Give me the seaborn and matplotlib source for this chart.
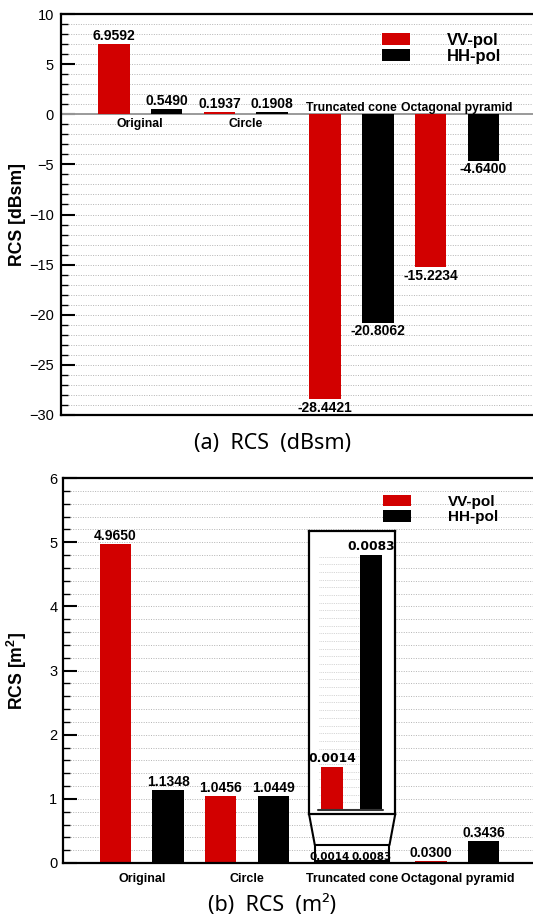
import matplotlib
matplotlib.use("Agg")
import matplotlib.pyplot as plt
import seaborn as sns
import numpy as np
import pandas as pd
from matplotlib.ticker import MultipleLocator
from matplotlib.patches import Rectangle

# data
categories = ["Original", "Circle", "Truncated cone", "Octagonal pyramid"]
polarizations = ["VV-pol", "HH-pol"]
vv_dbsm = [6.9592, 0.1937, -28.4421, -15.2234]
hh_dbsm = [0.5490, 0.1908, -20.8062, -4.6400]
vv_m2 = [4.9650, 1.0456, 0.0014, 0.0300]
hh_m2 = [1.1348, 1.0449, 0.0083, 0.3436]
zoom_category = "Truncated cone"

RED = "#d20000"
palette = {"VV-pol": RED, "HH-pol": "black"}
GRID = "#b4b4b4"

sns.set_style("white")
plt.rcParams["font.family"] = ["Liberation Sans", "DejaVu Sans"]
plt.rcParams.update({
    "text.color": "black", "axes.labelcolor": "black",
    "xtick.color": "black", "ytick.color": "black",
    "mathtext.fontset": "custom", "mathtext.rm": "Liberation Sans",
    "mathtext.bf": "Liberation Sans:bold",
})


def to_frame(vv, hh):
    return pd.DataFrame({
        "shape": categories * 2,
        "pol": ["VV-pol"] * len(categories) + ["HH-pol"] * len(categories),
        "value": list(vv) + list(hh),
    })


df_db = to_frame(vv_dbsm, hh_dbsm)
df_m2 = to_frame(vv_m2, hh_m2)

W, H = 533, 919
fig = plt.figure(figsize=(W / 100, H / 100), dpi=100)


def px_axes(left, top, right, bottom):
    return fig.add_axes([left / W, 1 - bottom / H, (right - left) / W, (bottom - top) / H])


def style_axes(ax, major, minor, ylim, pad):
    ax.set_xlim(-0.75, 3.72)
    ax.set_ylim(*ylim)
    ax.yaxis.set_major_locator(MultipleLocator(major))
    ax.yaxis.set_minor_locator(MultipleLocator(minor))
    ax.grid(which="both", axis="y", color=GRID, linestyle=(0, (1, 1.5)), lw=0.7)
    ax.grid(which="both", axis="x", visible=False)
    ax.set_axisbelow(True)
    ax.tick_params(axis="y", which="major", direction="in", length=10, width=1.5,
                   labelsize=10.5, pad=pad, left=True)
    ax.tick_params(axis="y", which="minor", direction="in", length=5, width=1, left=True)
    ax.spines["right"].set_visible(False)
    for s in ("left", "top", "bottom"):
        ax.spines[s].set_linewidth(1.6)
        ax.spines[s].set_color("black")
    ax.set_xlabel("")


def label_bars(ax, values_by_pol, skip=None, size=10):
    for container, pol in zip(ax.containers, polarizations):
        for bar, cat, v in zip(container, categories, values_by_pol[pol]):
            if cat == skip:
                continue
            x = bar.get_x() + bar.get_width() / 2
            up = v >= 0
            ax.annotate(f"{v:.4f}", (x, v), xytext=(0, 0.8 if up else -1.2),
                        textcoords="offset points", ha="center",
                        va="bottom" if up else "top",
                        fontsize=size, fontweight="bold")


def make_legend(ax, anchor, size, hl, hh, tp, ls):
    handles, labels = ax.get_legend_handles_labels()
    ax.legend(handles, labels, loc="upper left", bbox_to_anchor=anchor,
              frameon=False, prop={"weight": "bold", "size": size},
              handlelength=hl, handleheight=hh, handletextpad=tp,
              labelspacing=ls, borderpad=0, borderaxespad=0)


# ---------------- (a) RCS in dBsm ----------------
ax1 = px_axes(61, 14, 533, 415)
sns.barplot(data=df_db, x="shape", y="value", hue="pol", palette=palette,
            hue_order=polarizations, order=categories, width=1.0, gap=0.4,
            errorbar=None, linewidth=0, saturation=1, ax=ax1)
style_axes(ax1, 5, 1, (-30, 10), 5)
ax1.set_xticks([])
ax1.set_ylabel("RCS [dBsm]", fontsize=12.7, fontweight="bold")
ax1.yaxis.set_label_coords(-0.074, 0.5)
ax1.axhline(0, color="#9a9a9a", lw=1.4, zorder=0.8)
label_bars(ax1, {"VV-pol": vv_dbsm, "HH-pol": hh_dbsm})

for i, cat in enumerate(categories):
    positive = max(vv_dbsm[i], hh_dbsm[i]) > 0
    ax1.annotate(cat, (i, 0), xytext=(0, -2.7 if positive else 2.6),
                 textcoords="offset points", ha="center",
                 va="top" if positive else "baseline",
                 fontsize=8.8, fontweight="bold")

make_legend(ax1, (0.680, 0.953), 12, 1.7, 0.72, 2.2, 0.08)

fig.text(273 / W, 1 - 444 / H, "(a)  RCS  (dBsm)", ha="center", va="center",
         fontsize=15.5, family="Noto Sans")

# ---------------- (b) RCS in m^2 ----------------
ax2 = px_axes(63, 478, 533, 863)
sns.barplot(data=df_m2, x="shape", y="value", hue="pol", palette=palette,
            hue_order=polarizations, order=categories, width=1.0, gap=0.4,
            errorbar=None, linewidth=0, saturation=1, ax=ax2)
style_axes(ax2, 1, 0.2, (0, 6), 4)
ax2.set_xticks(range(len(categories)))
ax2.set_xticklabels(categories, fontsize=9, fontweight="bold")
ax2.tick_params(axis="x", length=0, pad=7)
ax2.set_ylabel(r"RCS [m$^\mathbf{2}$]", fontsize=12.7, fontweight="bold")
ax2.yaxis.set_label_coords(-0.072, 0.5)
label_bars(ax2, {"VV-pol": vv_m2, "HH-pol": hh_m2}, skip=zoom_category, size=10)
make_legend(ax2, (0.681, 0.957), 11, 1.83, 0.78, 2.4, 0.1)

# tiny values of the zoom category, written in the small box at the bottom
zi = categories.index(zoom_category)
for container, pol, nudge in zip(ax2.containers, polarizations, (3, -5)):
    bar = container[zi]
    v = bar.get_height()
    ax2.annotate(f"{v:.4f}", (bar.get_x() + bar.get_width() / 2, v),
                 xytext=(nudge, 0.5), textcoords="offset points", ha="center",
                 va="bottom", fontsize=7.5, fontweight="bold", family="DejaVu Sans")

# zoom box geometry (in the main axes data coordinates)
box_lo, box_hi = 0.763, 5.174
small_lo, small_hi = 0.03, 0.28
ax2.add_patch(Rectangle((zi - 0.355, small_lo), 0.71, small_hi - small_lo,
                        fill=False, ec="black", lw=1.5, clip_on=False, zorder=5))
ax2.plot([zi - 0.41, zi - 0.355], [box_lo, small_hi], color="black", lw=1.5, clip_on=False, zorder=5)
ax2.plot([zi + 0.41, zi + 0.355], [box_lo, small_hi], color="black", lw=1.5, clip_on=False, zorder=5)

inset = ax2.inset_axes([zi - 0.41, box_lo, 0.82, box_hi - box_lo], transform=ax2.transData)
zoom_df = df_m2[df_m2["shape"] == zoom_category]
sns.barplot(data=zoom_df, x="pol", y="value", hue="pol", palette=palette,
            order=polarizations, hue_order=polarizations, width=0.57,
            errorbar=None, linewidth=0, saturation=1, legend=False, ax=inset)
inset.set_xlim(-0.597, 1.636)
inset.set_ylim(-0.00013, 0.00908)
inset.set_facecolor("white")
inset.set_xticks([])
inset.set_yticks([])
inset.set_xlabel("")
inset.set_ylabel("")
for s in inset.spines.values():
    s.set_visible(True)
    s.set_color("black")
    s.set_linewidth(1.6)
inset.hlines(np.arange(0.00025, 0.0083, 0.00025), -0.35, 0.72, color="#c8c8c8",
             lw=0.6, linestyle=(0, (1, 1.2)), zorder=0.5)
inset.axhline(0, xmin=0.1, xmax=0.86, color="#333333", lw=1.5, zorder=3)
for bar, v in zip(inset.patches, [vv_m2[zi], hh_m2[zi]]):
    inset.annotate(f"{v:.4f}", (bar.get_x() + bar.get_width() / 2, v),
                   xytext=(0, 1.5), textcoords="offset points", ha="center",
                   va="bottom", fontsize=8.8, fontweight="bold", family="DejaVu Sans")

fig.text(272 / W, 1 - 905 / H, "(b)  RCS  (m²)", ha="center", va="center",
         fontsize=15.5, family="Noto Sans")

fig.savefig("out.png", dpi=100)
